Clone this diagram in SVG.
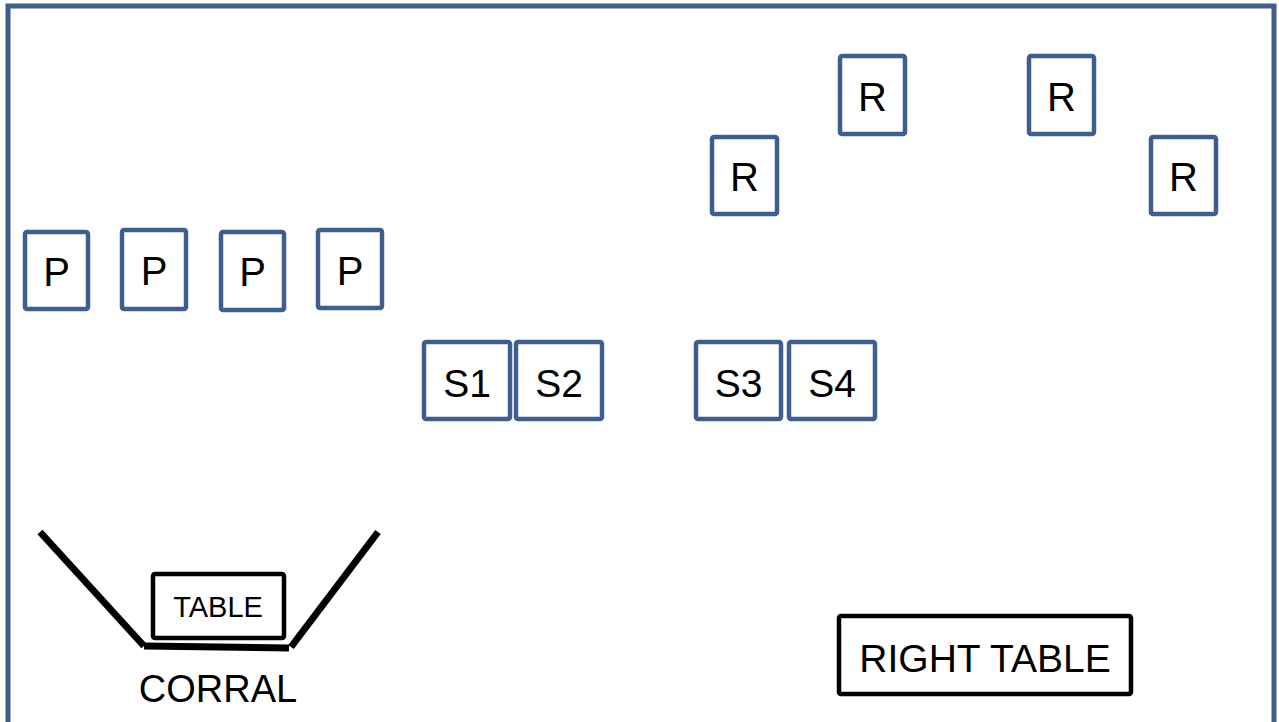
<svg xmlns="http://www.w3.org/2000/svg" width="1279" height="722" viewBox="0 0 1279 722">
<style>
.box{fill:#fff;stroke:#3d5f8e;stroke-width:4.5}
.blk{fill:#fff;stroke:#000;stroke-width:4.5}
.lbl{font-family:"Liberation Sans",Arial,sans-serif;font-size:40px;fill:#000;text-anchor:middle}
.wall{stroke:#000;stroke-width:7;fill:none}
</style>
<rect width="1279" height="722" fill="#fff"/>
<rect id="frame" x="8" y="6" width="1266" height="740" fill="none" stroke="#3d5f8e" stroke-width="5"/>
<g id="p1"><rect class="box" x="25" y="232" width="63" height="77" rx="2"/><text class="lbl" x="56.5" y="286">P</text></g>
<g id="p2"><rect class="box" x="122" y="230" width="64" height="79" rx="2"/><text class="lbl" x="154" y="285">P</text></g>
<g id="p3"><rect class="box" x="221" y="232" width="63" height="78" rx="2"/><text class="lbl" x="252.5" y="286">P</text></g>
<g id="p4"><rect class="box" x="318" y="230" width="64" height="78" rx="2"/><text class="lbl" x="350" y="285">P</text></g>
<g id="s1"><rect class="box" x="424" y="342" width="86" height="77" rx="2"/><text class="lbl" x="467" y="397" style="font-size:39px">S1</text></g>
<g id="s2"><rect class="box" x="516" y="342" width="86" height="77" rx="2"/><text class="lbl" x="559" y="397" style="font-size:39px">S2</text></g>
<g id="s3"><rect class="box" x="696" y="342" width="85" height="77" rx="2"/><text class="lbl" x="738.5" y="397" style="font-size:39px">S3</text></g>
<g id="s4"><rect class="box" x="789" y="342" width="86" height="77" rx="2"/><text class="lbl" x="832" y="397" style="font-size:39px">S4</text></g>
<g id="r1"><rect class="box" x="712" y="137" width="65" height="77" rx="2"/><text class="lbl" x="744.5" y="191">R</text></g>
<g id="r2"><rect class="box" x="840" y="56" width="65" height="78" rx="2"/><text class="lbl" x="872.5" y="111">R</text></g>
<g id="r3"><rect class="box" x="1029" y="56" width="65" height="78" rx="2"/><text class="lbl" x="1061.5" y="111">R</text></g>
<g id="r4"><rect class="box" x="1151" y="137" width="65" height="77" rx="2"/><text class="lbl" x="1183.5" y="191">R</text></g>
<g id="corral">
<line class="wall" x1="40" y1="532" x2="144" y2="646"/>
<line class="wall" x1="378" y1="532" x2="291" y2="647"/>
<line class="wall" x1="144" y1="646" x2="289" y2="648"/>
<text class="lbl" x="218" y="702" style="font-size:38px">CORRAL</text>
</g>
<g id="table"><rect class="blk" x="153" y="574" width="131" height="64" rx="2"/><text class="lbl" x="218" y="617" style="font-size:29px">TABLE</text></g>
<g id="right-table"><rect class="blk" x="839" y="616" width="292" height="78" rx="2"/><text class="lbl" x="985" y="672" style="font-size:39px">RIGHT TABLE</text></g>
</svg>
